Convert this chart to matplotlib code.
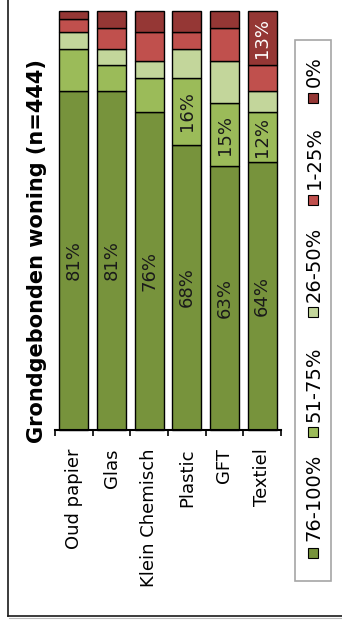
import matplotlib
matplotlib.use("Agg")
import matplotlib.pyplot as plt
from matplotlib.patches import Rectangle
from matplotlib.lines import Line2D
import numpy as np

plt.rcParams['font.family'] = ['DejaVu Sans']

title = "Grondgebonden woning (n=444)"
categories = ['Oud papier', 'Glas', 'Klein Chemisch', 'Plastic', 'GFT', 'Textiel']
series_names = ['76-100%', '51-75%', '26-50%', '1-25%', '0%']
v76_100 = [81, 81, 76, 68, 63, 64]
v51_75 = [10, 6, 8, 16, 15, 12]
v26_50 = [4, 4, 4, 7, 10, 5]
v1_25 = [3, 5, 7, 4, 8, 6]
v0 = [2, 4, 5, 5, 4, 13]
series = [v76_100, v51_75, v26_50, v1_25, v0]
colors = ['#77933C', '#9BBB59', '#C3D69B', '#C0504D', '#953735']
label_colors = ['#1A1A1A', '#1A1A1A', '#1A1A1A', '#1A1A1A', '#FFFFFF']

W, H = 342, 632
fig = plt.figure(figsize=(W / 100, H / 100), dpi=100)

def fx(x):
    return x / W

def fy(y):
    return 1 - y / H

ax = fig.add_axes([fx(55), fy(430), fx(281) - fx(55), fy(11) - fy(430)])
x = np.arange(len(categories))
bottom = np.zeros(len(categories))
for vals, col, lc in zip(series, colors, label_colors):
    vals = np.array(vals, dtype=float)
    ax.bar(x, vals, bottom=bottom, width=0.77, color=col,
           edgecolor='black', linewidth=1.0, clip_on=False)
    for xi, b, v in zip(x, bottom, vals):
        if v >= 12:
            ax.text(xi, b + v / 2, f"{int(v)}%", rotation=90, ha='center',
                    va='center', fontsize=13, color=lc)
    bottom += vals

ax.set_xlim(-0.5, len(categories) - 0.5)
ax.set_ylim(0, 100)
for s in ['top', 'right', 'left']:
    ax.spines[s].set_visible(False)
ax.spines['bottom'].set_linewidth(1.5)
ax.set_yticks([])
ax.set_xticks(x)
ax.set_xticklabels(categories, rotation=90, fontsize=13)
ax.tick_params(axis='x', which='major', length=0, pad=13)
ax.set_xticks(np.arange(-0.5, len(categories)), minor=True)
ax.tick_params(axis='x', which='minor', length=4.5, width=1.2, direction='out')

# Title (rotated)
fig.text(fx(37), fy(251), title, rotation=90, ha='center', va='center',
         fontsize=15, fontweight='bold', color='black')

# Outer frame
fig.add_artist(Line2D([fx(7.5), fx(7.5)], [fy(616), 1.0], color='#1A1A1A',
                      lw=1.2, transform=fig.transFigure))
fig.add_artist(Line2D([fx(7.5), 1.0], [fy(616), fy(616)], color='#1A1A1A',
                      lw=1.2, transform=fig.transFigure))
fig.add_artist(Line2D([fx(9), 1.0], [fy(618), fy(618)], color='#BBBBBB',
                      lw=0.8, transform=fig.transFigure))

# Legend (rotated, manual)
fig.add_artist(Rectangle((fx(294.5), fy(581)), fx(331) - fx(294.5), fy(40) - fy(581),
                         facecolor='white', edgecolor='#A6A6A6', lw=1.2,
                         transform=fig.transFigure))
sq_centers = [553, 432, 312, 200, 98]
txt_starts = [541, 422, 302, 189, 87]
for name, col, sc, ts in zip(series_names, colors, sq_centers, txt_starts):
    fig.add_artist(Rectangle((fx(307.5), fy(sc + 5)), fx(10), fy(0) - fy(10),
                             facecolor=col, edgecolor='black', lw=0.8,
                             transform=fig.transFigure))
    fig.text(fx(314), fy(ts), name, rotation=90, ha='center', va='bottom',
             fontsize=14, color='black')

fig.savefig('out.png', dpi=100)
